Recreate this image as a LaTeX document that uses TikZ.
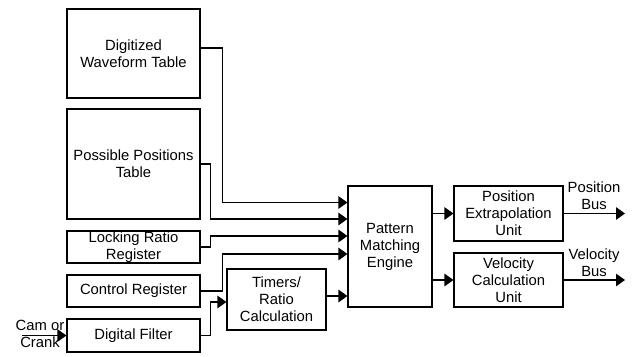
\documentclass[tikz,border=0pt]{standalone}
\usepackage{fontspec}
\setmainfont{Liberation Sans}
\usetikzlibrary{arrows.meta}
\begin{document}
\begin{tikzpicture}[x=1pt,y=-1pt,
  blk/.style={draw=black,line width=1.1pt,fill=white,align=center,inner sep=0pt,
    font=\fontsize{14.8}{17}\selectfont},
  lbl/.style={align=center,inner sep=0pt,font=\fontsize{14.8}{17}\selectfont},
  wire/.style={draw=black,line width=1.1pt,-{Triangle[length=9pt,width=12.5pt]}}]
\useasboundingbox (0,0) rectangle (634,356);

% input tables and registers
\node[blk,minimum width=133pt,minimum height=89pt] (dwt) at (133.5,53.5) {Digitized\\Waveform Table};
\node[blk,minimum width=133pt,minimum height=110pt] (ppt) at (133.5,164) {Possible Positions\\Table};
\node[blk,minimum width=133pt,minimum height=32pt] (lrr) at (133.5,247) {Locking Ratio\\Register};
\node[blk,minimum width=133pt,minimum height=32pt] (cr) at (133.5,291) {Control Register};
\node[blk,minimum width=133pt,minimum height=33pt] (df) at (133.5,335.5) {Digital Filter};

% processing blocks
\node[blk,minimum width=99pt,minimum height=61pt] (trc) at (276.5,299.5) {Timers/\\Ratio\\Calculation};
\node[blk,minimum width=84pt,minimum height=121pt] (pme) at (390,246.5) {Pattern\\Matching\\Engine};
\node[blk,minimum width=109pt,minimum height=55pt] (peu) at (508.5,213.5) {Position\\Extrapolation\\Unit};
\node[blk,minimum width=109pt,minimum height=54pt] (vcu) at (508.5,280) {Velocity\\Calculation\\Unit};

% external signals
\coordinate (cam) at (22,335.5);
\coordinate (pbus) at (625,213.5);
\coordinate (vbus) at (625,280);
\node[lbl] (camlbl) at (40,334) {Cam or\\Crank};
\node[lbl] (pbuslbl) at (594,196) {Position\\Bus};
\node[lbl] (vbuslbl) at (594,263) {Velocity\\Bus};

% connectors into the pattern matching engine
\draw[wire] ([yshift=5.5pt]dwt.east) -- ++(22,0) |- ([yshift=44pt]pme.west);
\draw[wire] (ppt.east) -- ++(10,0) |- ([yshift=27.5pt]pme.west);
\draw[wire] (lrr.east) -- ++(10,0) |- ([yshift=10.5pt]pme.west);
\draw[wire] (cr.east) -- ++(22,0) |- ([yshift=-7.5pt]pme.west);
\draw[wire] ([yshift=3.5pt]trc.east) -- ([yshift=-49.5pt]pme.west);
\draw[wire] (df.east) -- ++(10,0) |- ([yshift=-2.5pt]trc.west);
\draw[wire] (cam) -- (df.west);

% outputs
\draw[wire] (pme.east |- peu.west) -- (peu.west);
\draw[wire] (pme.east |- vcu.west) -- (vcu.west);
\draw[wire] (peu.east) -- (pbus);
\draw[wire] (vcu.east) -- (vbus);
\end{tikzpicture}
\end{document}
